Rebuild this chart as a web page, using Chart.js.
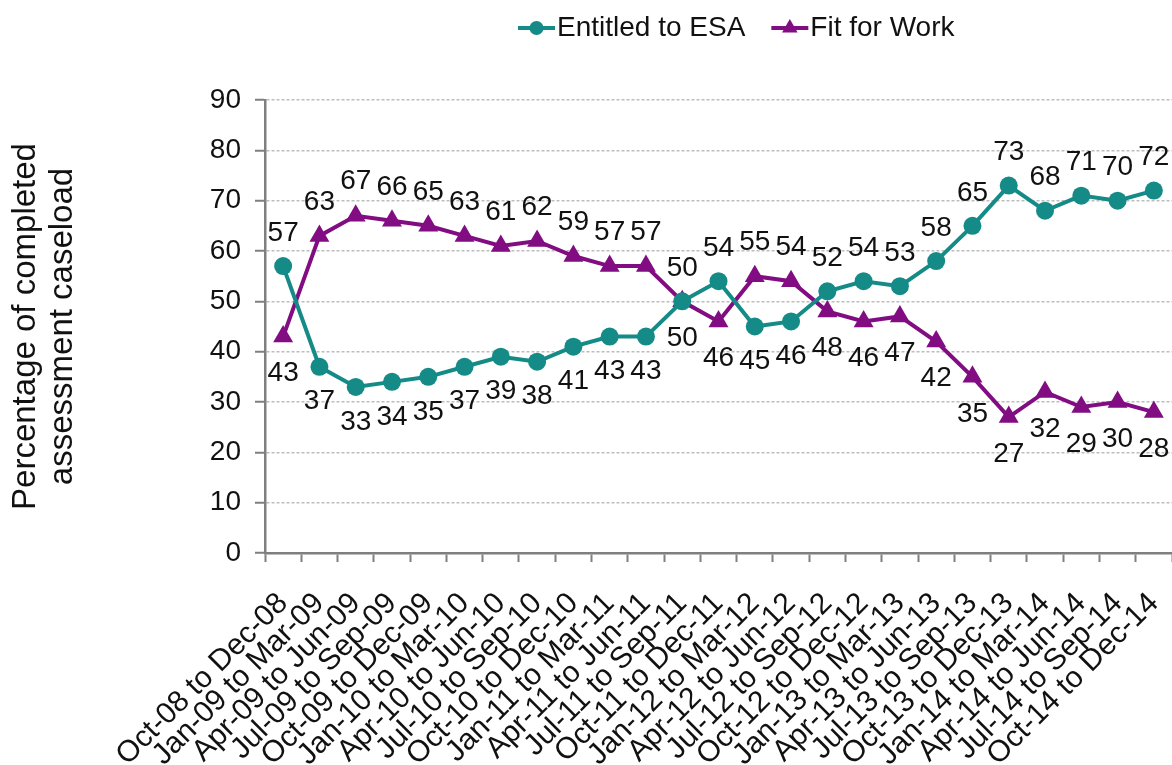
<!DOCTYPE html>
<html>
<head>
<meta charset="utf-8">
<title>Work Capability Assessment outcomes</title>
<script src="https://cdn.jsdelivr.net/npm/chart.js@4.4.1/dist/chart.umd.min.js"></script>
<style>
  html, body { margin: 0; padding: 0; background: #fff; overflow: hidden; }
  #wrap { width: 1172px; height: 765px; position: relative; }
</style>
</head>
<body>
<div id="wrap"><canvas id="wcaChart"></canvas></div>
<script>
const quarters = [
  'Oct-08 to Dec-08', 'Jan-09 to Mar-09', 'Apr-09 to Jun-09', 'Jul-09 to Sep-09',
  'Oct-09 to Dec-09', 'Jan-10 to Mar-10', 'Apr-10 to Jun-10', 'Jul-10 to Sep-10',
  'Oct-10 to Dec-10', 'Jan-11 to Mar-11', 'Apr-11 to Jun-11', 'Jul-11 to Sep-11',
  'Oct-11 to Dec-11', 'Jan-12 to Mar-12', 'Apr-12 to Jun-12', 'Jul-12 to Sep-12',
  'Oct-12 to Dec-12', 'Jan-13 to Mar-13', 'Apr-13 to Jun-13', 'Jul-13 to Sep-13',
  'Oct-13 to Dec-13', 'Jan-14 to Mar-14', 'Apr-14 to Jun-14', 'Jul-14 to Sep-14',
  'Oct-14 to Dec-14'
];
const entitledToEsa = [57, 37, 33, 34, 35, 37, 39, 38, 41, 43, 43, 50, 54, 45, 46, 52, 54, 53, 58, 65, 73, 68, 71, 70, 72];
const fitForWork = [43, 63, 67, 66, 65, 63, 61, 62, 59, 57, 57, 50, 46, 55, 54, 48, 46, 47, 42, 35, 27, 32, 29, 30, 28];
const yTicks = [0, 10, 20, 30, 40, 50, 60, 70, 80, 90];
const seriesNames = ['Entitled to ESA', 'Fit for Work'];

const TEAL = '#158b87';
const PURPLE = '#820d82';
const FONT = '"Liberation Sans", Arial, sans-serif';

// labels go above the higher of the two series, below the lower one
const valueLabels = {
  id: 'valueLabels',
  afterDatasetsDraw(chart) {
    const ctx = chart.ctx;
    const esa = chart.getDatasetMeta(0).data;
    const ffw = chart.getDatasetMeta(1).data;
    ctx.save();
    ctx.font = '28px ' + FONT;
    ctx.fillStyle = '#111';
    ctx.textAlign = 'center';
    ctx.textBaseline = 'middle';
    quarters.forEach((q, i) => {
      const esaUp = entitledToEsa[i] >= fitForWork[i];
      const a = esa[i], b = ffw[i];
      ctx.fillText(String(entitledToEsa[i]), a.x, esaUp ? a.y - 33 : a.y + 35);
      ctx.fillText(String(fitForWork[i]), b.x, esaUp ? b.y + 37 : b.y - 34);
    });
    ctx.restore();
  }
};

// legend drawn by hand: line segment with the marker in its middle
const lineLegend = {
  id: 'lineLegend',
  afterDraw(chart) {
    const ctx = chart.ctx;
    const y = 28;
    let x = 518;
    ctx.save();
    ctx.font = '28px ' + FONT;
    ctx.textBaseline = 'middle';
    ctx.textAlign = 'left';
    seriesNames.forEach((name, i) => {
      const color = i === 0 ? TEAL : PURPLE;
      ctx.strokeStyle = color;
      ctx.fillStyle = color;
      ctx.lineWidth = 4;
      ctx.beginPath();
      ctx.moveTo(x, y);
      ctx.lineTo(x + 37, y);
      ctx.stroke();
      Chart.helpers.drawPoint(ctx, {
        pointStyle: i === 0 ? 'circle' : 'triangle',
        radius: i === 0 ? 7 : 9,
        borderWidth: 0
      }, x + 18.5, y);
      ctx.fillStyle = '#111';
      ctx.fillText(name, x + 39, y);
      x += 39 + ctx.measureText(name).width + 26;
    });
    ctx.restore();
  }
};

new Chart(document.getElementById('wcaChart'), {
  type: 'line',
  data: {
    labels: quarters,
    datasets: [
      {
        label: seriesNames[0],
        data: entitledToEsa,
        borderColor: TEAL,
        backgroundColor: TEAL,
        borderWidth: 4,
        pointStyle: 'circle',
        pointRadius: 9,
        pointBorderWidth: 0,
        tension: 0
      },
      {
        label: seriesNames[1],
        data: fitForWork,
        borderColor: PURPLE,
        backgroundColor: PURPLE,
        borderWidth: 4,
        pointStyle: 'triangle',
        pointRadius: 11.5,
        pointBorderWidth: 0,
        tension: 0
      }
    ]
  },
  options: {
    responsive: true,
    maintainAspectRatio: false,
    animation: false,
    layout: { autoPadding: false, padding: { top: 100, right: 0, left: 0, bottom: 0 } },
    plugins: {
      legend: { display: false },
      tooltip: { enabled: false }
    },
    scales: {
      y: {
        min: 0,
        max: 90,
        afterBuildTicks: scale => { scale.ticks = yTicks.map(v => ({ value: v })); },
        afterFit: scale => { scale.width = 265; },
        title: {
          display: true,
          text: ['Percentage of completed', 'assessment caseload'],
          color: '#111',
          font: { family: FONT, size: 33, lineHeight: 1.1 },
          padding: { top: 8, bottom: 0 }
        },
        ticks: {
          color: '#111',
          font: { family: FONT, size: 28 },
          padding: 14
        },
        grid: {
          color: '#bdbdbd',
          lineWidth: 1.5,
          tickColor: '#7f7f7f',
          tickWidth: 2,
          tickLength: 10,
          tickBorderDash: []
        },
        border: { color: '#7f7f7f', width: 2.5, dash: [3, 2] }
      },
      x: {
        offset: true,
        afterFit: scale => {
          scale.height = 212;
          scale.paddingLeft = 0;
          scale.paddingRight = 0;
        },
        ticks: {
          color: '#111',
          font: { family: FONT, size: 30 },
          minRotation: 45,
          maxRotation: 45,
          autoSkip: false,
          padding: 24
        },
        grid: {
          display: true,
          offset: true,
          drawOnChartArea: false,
          drawTicks: true,
          tickLength: 9,
          tickColor: '#7f7f7f',
          tickWidth: 2
        },
        border: { color: '#7f7f7f', width: 2.5 }
      }
    }
  },
  plugins: [valueLabels, lineLegend]
});
</script>
</body>
</html>
